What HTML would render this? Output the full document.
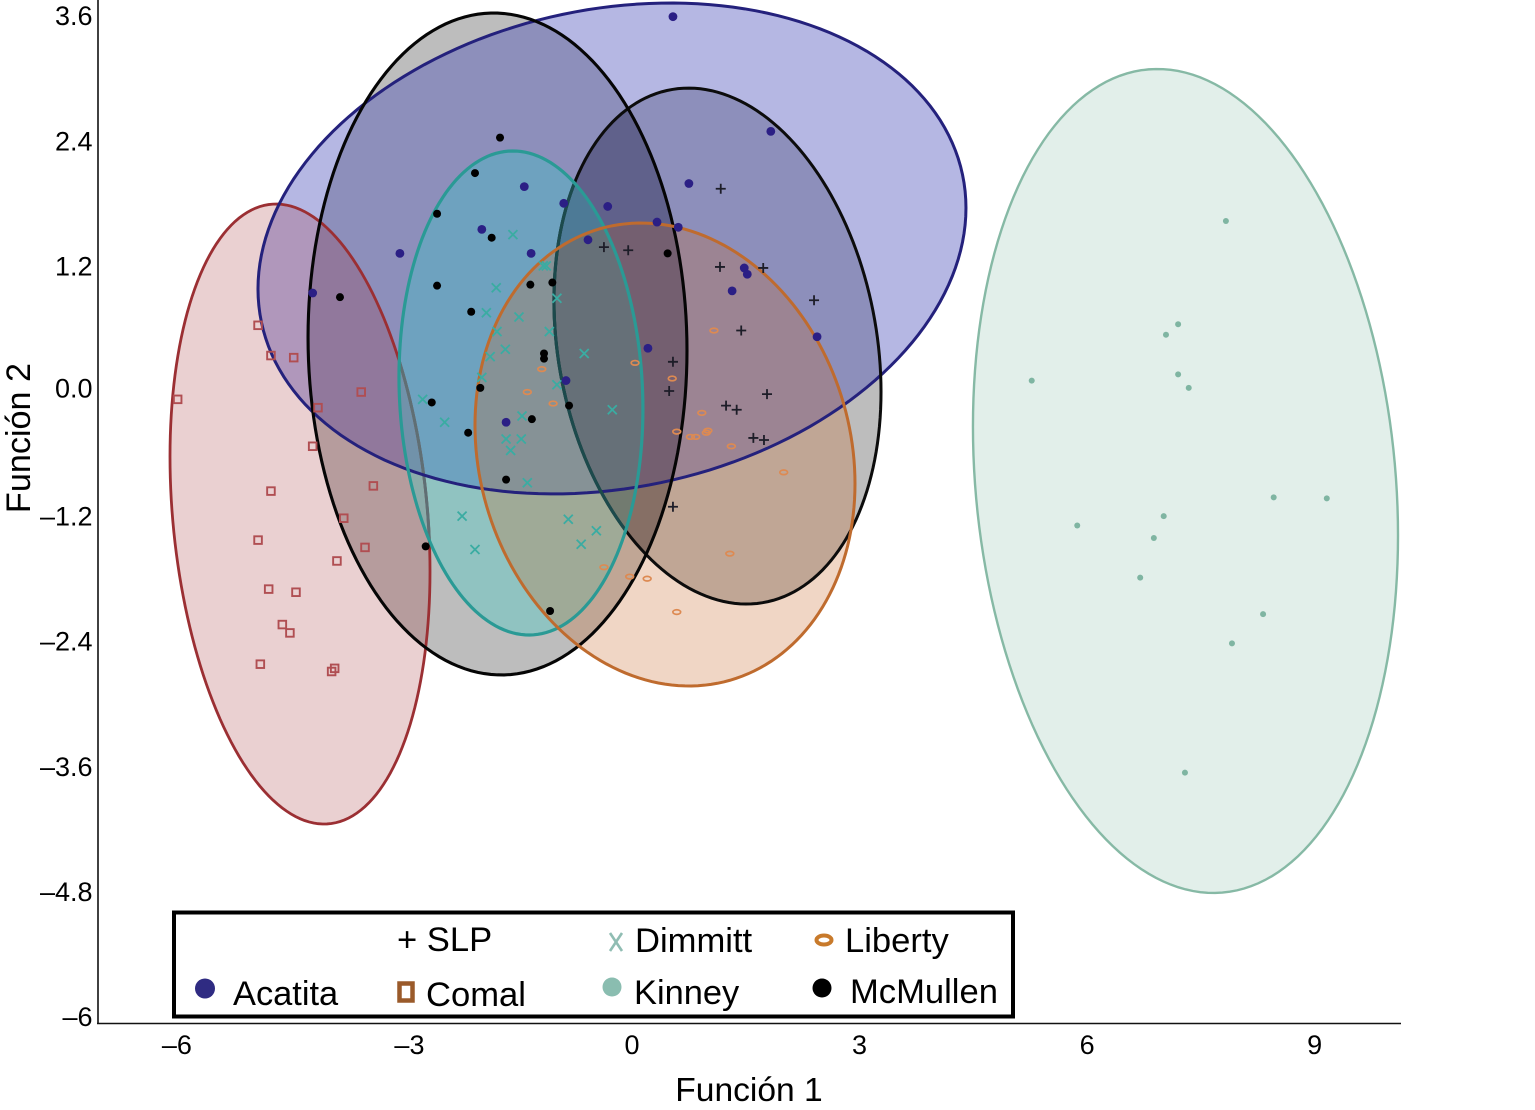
<!DOCTYPE html>
<html lang="es">
<head>
<meta charset="utf-8">
<title>Función 1 vs Función 2</title>
<style>
html,body{margin:0;padding:0;background:#fff;}
svg{display:block;font-family:"Liberation Sans",Arial,sans-serif;}
</style>
</head>
<body>
<svg id="chart" xmlns="http://www.w3.org/2000/svg" width="1535" height="1110" viewBox="0 0 1535 1110">
  <defs id="defs"></defs>
  <g id="ellipses"></g>
  <g id="points"></g>
  <g id="axes"></g>
  <g>
    <rect x="174" y="912.5" width="839" height="104" fill="#fff" stroke="#000" stroke-width="4"/>
    <text x="397" y="951" font-size="34.6">+ SLP</text>
    <g stroke="#90bdb3" stroke-width="2.6" fill="none">
      <line x1="610" y1="933" x2="622" y2="951"/>
      <line x1="622" y1="933" x2="610" y2="951"/>
    </g>
    <text x="635" y="952" font-size="34.6">Dimmitt</text>
    <ellipse cx="824" cy="940" rx="7.5" ry="4.5" fill="#fff" stroke="#c87a2b" stroke-width="4"/>
    <text x="845" y="952" font-size="34.6">Liberty</text>
    <circle cx="205" cy="988.5" r="10" fill="#2f2b82"/>
    <text x="233" y="1005" font-size="34.4">Acatita</text>
    <rect x="399.5" y="983.5" width="13" height="17" fill="#fff" stroke="#9a5a2a" stroke-width="4.5"/>
    <text x="426" y="1006" font-size="34.6">Comal</text>
    <circle cx="612" cy="987" r="9.5" fill="#8abdb0"/>
    <text x="634" y="1004" font-size="34.4">Kinney</text>
    <circle cx="822" cy="988" r="9.5" fill="#000"/>
    <text x="850" y="1003" font-size="34.6">McMullen</text>
  </g>
</svg>
<script>
// Axis ticks
const xTicks = [-6, -3, 0, 3, 6, 9];
const xTickLabels = ["–6", "–3", "0", "3", "6", "9"];
const yTicks = [3.6, 2.4, 1.2, 0, -1.2, -2.4, -3.6, -4.8, -6];
const yTickLabels = ["3.6", "2.4", "1.2", "0.0", "–1.2", "–2.4", "–3.6", "–4.8", "–6"];

// Ellipse statistics: [centre x, centre y, half-width, half-height, correlation]
const ellipseKinney = [7.297, -0.863, 2.802, 3.951, -0.132];
const ellipseComal = [-4.377, -1.180, 1.714, 2.973, -0.185];
const ellipseAcatita = [-0.264, 1.367, 4.667, 2.354, 0.165];
const ellipseMcMullen = [-1.773, 0.451, 2.498, 3.174, -0.02];
const ellipseSLP = [1.127, 0.431, 2.156, 2.474, -0.177];
const ellipseLiberty = [0.435, -0.609, 2.505, 2.220, -0.126];
const ellipseDimmitt = [-1.464, -0.019, 1.608, 2.321, -0.066];

// Series scores [Función 1, Función 2]
const acatita = [[.54,3.59],[1.83,2.49],[.75,1.99],[-1.42,1.96],[-.90,1.80],[-.32,1.77],[.33,1.62],[.61,1.57],[-1.98,1.55],[-.58,1.45],[-1.33,1.32],[-3.06,1.32],[1.48,1.18],[1.52,1.12],[1.32,.96],[-4.21,.94],[2.44,.52],[.21,.41],[-.87,.10],[-1.66,-.30]];
const slp = [[1.17,1.94],[-.37,1.38],[-.05,1.35],[1.16,1.19],[1.73,1.18],[2.40,.87],[1.44,.58],[.54,.28],[.49,0],[1.78,-.03],[1.24,-.14],[1.38,-.18],[1.60,-.45],[1.74,-.47],[.54,-1.11]];
const mcmullen = [[-1.74,2.43],[-2.07,2.09],[-2.57,1.70],[-1.85,1.47],[.47,1.32],[-3.85,.90],[-2.57,1.01],[-1.34,1.02],[-1.05,1.04],[-2.12,.76],[-1.16,.36],[-1.16,.31],[-2.00,.03],[-2.64,-.11],[-.83,-.14],[-1.32,-.27],[-2.16,-.40],[-1.66,-.85],[-2.72,-1.49],[-1.08,-2.11]];
const dimmitt = [[-1.57,1.50],[-1.17,1.20],[-1.13,1.20],[-1.79,.99],[-.99,.89],[-1.92,.75],[-1.49,.71],[-1.78,.57],[-1.09,.57],[-1.67,.40],[-1.87,.33],[-.63,.36],[-1.98,.13],[-.99,.06],[-2.76,-.08],[-.26,-.18],[-2.47,-.30],[-1.45,-.24],[-1.66,-.46],[-1.46,-.46],[-1.60,-.57],[-1.38,-.88],[-2.24,-1.20],[-2.07,-1.52],[-.84,-1.23],[-.67,-1.47],[-.47,-1.34]];
const liberty = [[-1.19,.21],[-1.38,-.01],[-1.04,-.12],[.04,.27],[.53,.12],[1.08,.58],[.92,-.21],[.59,-.39],[.77,-.44],[.84,-.44],[.98,-.40],[1.00,-.38],[1.31,-.53],[2.00,-.78],[-.37,-1.69],[-.03,-1.78],[.20,-1.80],[1.29,-1.56],[.59,-2.12]];
const comal = [[-4.93,.63],[-4.76,.34],[-4.46,.32],[-5.99,-.08],[-3.57,-.01],[-4.14,-.16],[-4.21,-.53],[-3.41,-.91],[-4.76,-.96],[-3.80,-1.22],[-4.93,-1.43],[-3.52,-1.50],[-3.89,-1.63],[-4.79,-1.90],[-4.43,-1.93],[-4.61,-2.24],[-4.51,-2.32],[-4.90,-2.62],[-3.92,-2.66],[-3.96,-2.69]];
const kinney = [[7.83,1.63],[7.04,.54],[7.20,.64],[5.27,.10],[7.20,.16],[7.34,.03],[8.46,-1.02],[9.16,-1.03],[7.01,-1.20],[5.87,-1.29],[6.88,-1.41],[6.70,-1.79],[8.32,-2.14],[7.91,-2.42],[7.29,-3.66]];

const NS = "http://www.w3.org/2000/svg";
const xScale = v => 632 + v * 75.85;
const yScale = v => 391 - v * 104.27;
const lenX = v => v * 75.85;
const lenY = v => v * 104.27;

function make(tag, attrs, parent) {
  const el = document.createElementNS(NS, tag);
  for (const k in attrs) el.setAttribute(k, attrs[k]);
  parent.appendChild(el);
  return el;
}

function ellipsePath(stats) {
  const cx = xScale(stats[0]), cy = yScale(stats[1]);
  const w = lenX(stats[2]), h = lenY(stats[3]), r = stats[4];
  const q = Math.sqrt(1 - r * r);
  let d = "";
  for (let i = 0; i < 180; i++) {
    const t = i / 180 * 2 * Math.PI;
    const px = cx + w * Math.cos(t);
    const py = cy - h * (r * Math.cos(t) + q * Math.sin(t));
    d += (i ? "L" : "M") + px.toFixed(2) + " " + py.toFixed(2);
  }
  return d + "Z";
}

// Ellipses: fills first, outlines on top
const ellipseLayer = document.getElementById("ellipses");
function drawFill(stats, fill, name, clip) {
  const el = make("path", {d: ellipsePath(stats), fill: fill, stroke: "none"}, ellipseLayer);
  if (clip) el.setAttribute("clip-path", "url(#" + clip + ")");
  
  
}
function drawOutline(stats, stroke, width, name, clip) {
  const el = make("path", {d: ellipsePath(stats), fill: "none", stroke: stroke, "stroke-width": width}, ellipseLayer);
  if (clip) el.setAttribute("clip-path", "url(#" + clip + ")");
  
  
}
const defsLayer = document.getElementById("defs");
const dimmittClip = make("clipPath", {id: "dimmitt-clip"}, defsLayer);
make("path", {d: ellipsePath(ellipseDimmitt)}, dimmittClip);
const mcmullenClip = make("clipPath", {id: "mcmullen-clip"}, defsLayer);
make("path", {d: ellipsePath(ellipseMcMullen)}, mcmullenClip);

drawFill(ellipseKinney, "rgba(110,175,150,.2)", "ellipse-kinney");
drawFill(ellipseMcMullen, "rgba(0,0,0,.26)", "ellipse-mcmullen");
drawFill(ellipseSLP, "rgba(0,0,0,.26)", "ellipse-slp");
drawFill(ellipseAcatita, "rgba(70,75,185,.4)", "ellipse-acatita");
drawFill(ellipseComal, "rgba(160,40,45,.22)", "ellipse-comal");
drawFill(ellipseDimmitt, "rgba(41,208,201,.3)", "ellipse-dimmitt");
drawFill(ellipseLiberty, "rgba(200,105,40,.27)", "ellipse-liberty");
drawFill(ellipseSLP, "rgba(0,0,25,.14)", "ellipse-overlap-mcmullen-slp", "mcmullen-clip");

drawOutline(ellipseKinney, "#86b9a5", 2.4, "ellipse-outline-kinney");
drawOutline(ellipseComal, "#9b2f33", 2.8, "ellipse-outline-comal");
drawOutline(ellipseComal, "#5f6f74", 3, "ellipse-outline-comal-under-dimmitt", "dimmitt-clip");
drawOutline(ellipseAcatita, "#24217c", 3, "ellipse-outline-acatita");
drawOutline(ellipseSLP, "#0c0c0c", 3, "ellipse-outline-slp");
drawOutline(ellipseSLP, "#1c4a4c", 3.2, "ellipse-outline-slp-under-dimmitt", "dimmitt-clip");
drawOutline(ellipseMcMullen, "#050505", 3.1, "ellipse-outline-mcmullen");
drawOutline(ellipseDimmitt, "#2a9a95", 3.2, "ellipse-outline-dimmitt");
drawOutline(ellipseLiberty, "#bf6b2e", 3, "ellipse-outline-liberty");

// Points
const pointLayer = document.getElementById("points");
kinney.forEach(p => {
  const el = make("circle", {cx: xScale(p[0]), cy: yScale(p[1]), r: 3, fill: "#7fb5a2"}, pointLayer);
  
  
});
comal.forEach(p => {
  const el = make("rect", {x: xScale(p[0]) - 3.8, y: yScale(p[1]) - 3.8, width: 7.6, height: 7.6, fill: "none", stroke: "#b04e52", "stroke-width": 1.9}, pointLayer);
  
  
});
liberty.forEach(p => {
  const el = make("ellipse", {cx: xScale(p[0]), cy: yScale(p[1]), rx: 3.9, ry: 2.3, fill: "none", stroke: "#dd8a52", "stroke-width": 1.7}, pointLayer);
  
  
});
dimmitt.forEach(p => {
  const cx = xScale(p[0]), cy = yScale(p[1]), s = 4.5;
  const el = make("path", {d: `M${cx - s} ${cy - s}L${cx + s} ${cy + s}M${cx + s} ${cy - s}L${cx - s} ${cy + s}`, fill: "none", stroke: "#3aaca2", "stroke-width": 1.8}, pointLayer);
  
  
});
slp.forEach(p => {
  const cx = xScale(p[0]), cy = yScale(p[1]), s = 5;
  const el = make("path", {d: `M${cx - s} ${cy}L${cx + s} ${cy}M${cx} ${cy - s}L${cx} ${cy + s}`, fill: "none", stroke: "#1d1d28", "stroke-width": 1.8}, pointLayer);
  
  
});
acatita.forEach(p => {
  const el = make("circle", {cx: xScale(p[0]), cy: yScale(p[1]), r: 4.4, fill: "#2b1f85"}, pointLayer);
  
  
});
mcmullen.forEach(p => {
  const el = make("circle", {cx: xScale(p[0]), cy: yScale(p[1]), r: 4, fill: "#000"}, pointLayer);
  
  
});

// Axes
const axisLayer = document.getElementById("axes");
const yAxisLine = make("line", {x1: 98, y1: 0, x2: 98, y2: 1023.5, stroke: "#111", "stroke-width": 1.6}, axisLayer);


const xAxisLine = make("line", {x1: 97, y1: 1023.5, x2: 1401, y2: 1023.5, stroke: "#111", "stroke-width": 1.4}, axisLayer);



xTicks.forEach((v, i) => {
  const nudge = v === -3 ? 5 : 0;
  const t = make("text", {x: xScale(v) + nudge, y: 1054, "font-size": 27, "text-anchor": "middle", fill: "#000"}, axisLayer);
  t.textContent = xTickLabels[i];
  
  
});
yTicks.forEach((v, i) => {
  const nudge = v === 0 ? -3 : 0;
  const t = make("text", {x: 92.5, y: yScale(v) + 9.5 + nudge, "font-size": 27, "text-anchor": "end", fill: "#000"}, axisLayer);
  t.textContent = yTickLabels[i];
  
  
});

const xTitle = make("text", {x: 749, y: 1101, "font-size": 33.6, "text-anchor": "middle", fill: "#000"}, axisLayer);
xTitle.textContent = "Función 1";


const yTitle = make("text", {x: 0, y: 0, "font-size": 34.2, "text-anchor": "middle", fill: "#000", transform: "translate(30 438) rotate(-90)"}, axisLayer);
yTitle.textContent = "Función 2";


</script>
</body>
</html>
